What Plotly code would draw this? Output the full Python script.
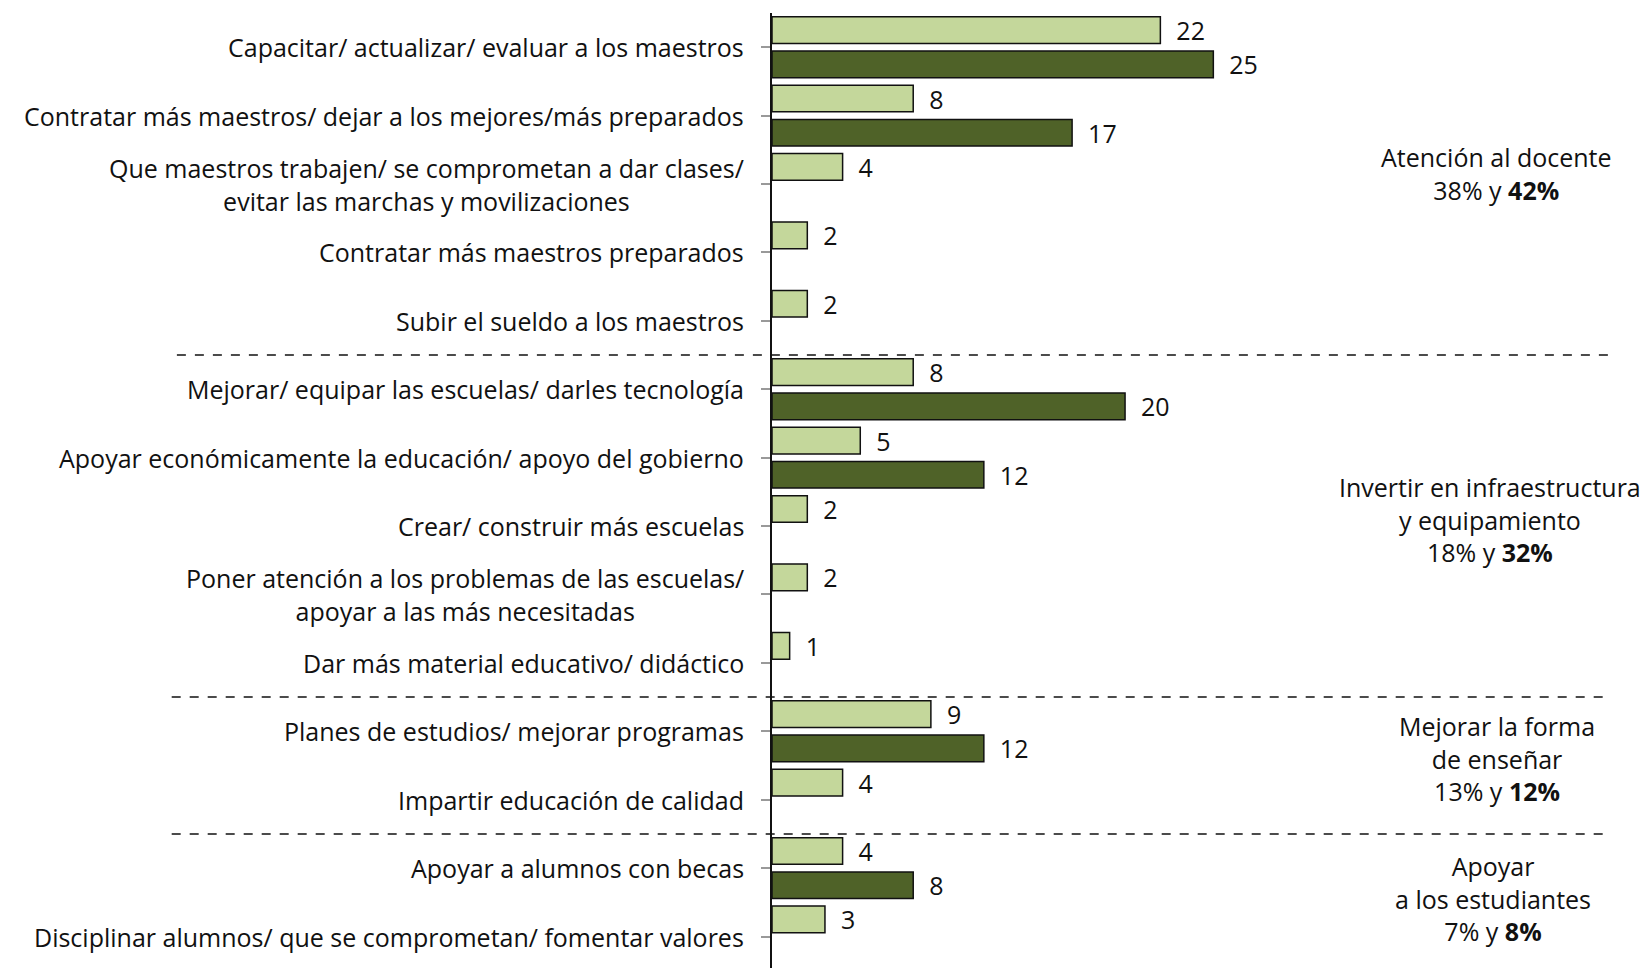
import plotly.graph_objects as go

categorias = [
    "Capacitar/ actualizar/ evaluar a los maestros",
    "Contratar más maestros/ dejar a los mejores/más preparados",
    "Que maestros trabajen/ se comprometan a dar clases/<br>evitar las marchas y movilizaciones",
    "Contratar más maestros preparados",
    "Subir el sueldo a los maestros",
    "Mejorar/ equipar las escuelas/ darles tecnología",
    "Apoyar económicamente la educación/ apoyo del gobierno",
    "Crear/ construir más escuelas",
    "Poner atención a los problemas de las escuelas/<br>apoyar a las más necesitadas",
    "Dar más material educativo/ didáctico",
    "Planes de estudios/ mejorar programas",
    "Impartir educación de calidad",
    "Apoyar a alumnos con becas",
    "Disciplinar alumnos/ que se comprometan/ fomentar valores",
]
serie_clara = [22, 8, 4, 2, 2, 8, 5, 2, 2, 1, 9, 4, 4, 3]
serie_oscura = [25, 17, None, None, None, 20, 12, None, None, None, 12, None, 8, None]

grupos = [
    "Atención al docente<br>38% y <b>42%</b>",
    "Invertir en infraestructura<br>y equipamiento<br>18% y <b>32%</b>",
    "Mejorar la forma<br>de enseñar<br>13% y <b>12%</b>",
    "Apoyar<br>a los estudiantes<br>7% y <b>8%</b>",
]
grupo_x = [41.05, 40.7, 41.05, 40.85]
grupo_y = [1.85, 6.9, 10.4, 12.45]
separadores = [4.5, 9.5, 11.5]

FONT = "Open Sans"
SIZE = 25
idx = list(range(len(categorias)))

fig = go.Figure()
fig.add_trace(go.Bar(
    y=idx, x=serie_clara, orientation="h", name="Serie 1",
    marker=dict(color="#C4D79B", line=dict(color="#111111", width=1.5)),
    texttemplate="\u00a0\u00a0%{x}", textposition="outside", cliponaxis=False,
    constraintext="none",
    textfont=dict(size=SIZE, color="#111111", family=FONT),
))
fig.add_trace(go.Bar(
    y=idx, x=serie_oscura, orientation="h", name="Serie 2",
    marker=dict(color="#4F6228", line=dict(color="#111111", width=1.5)),
    texttemplate="\u00a0\u00a0%{x}", textposition="outside", cliponaxis=False,
    constraintext="none",
    textfont=dict(size=SIZE, color="#111111", family=FONT),
))

# etiquetas de categoría (centradas en bloque, alineadas a la derecha)
for i, c in enumerate(categorias):
    fig.add_annotation(x=0, xref="paper", y=i, yref="y", text=c, showarrow=False,
                       xanchor="right", xshift=-26, align="center",
                       font=dict(size=SIZE, color="#111111", family=FONT))

for g, gx, gy in zip(grupos, grupo_x, grupo_y):
    fig.add_annotation(x=gx, xref="x", y=gy, yref="y", text=g, showarrow=False,
                       xanchor="center", align="center",
                       font=dict(size=SIZE, color="#111111", family=FONT))

for k, s in enumerate(separadores):
    x0, x1 = (-0.688, 0.972) if k == 0 else (-0.694, 0.966)
    fig.add_shape(type="line", xref="paper", yref="y", x0=x0, x1=x1, y0=s, y1=s,
                  line=dict(color="#111111", width=1.5, dash="dash"))

# la página tiene 8 px de margen de body: se compensa en el tamaño y márgenes
fig.update_layout(
    width=1640, height=960,
    margin=dict(l=764, r=11, t=5, b=0),
    paper_bgcolor="white", plot_bgcolor="white",
    barmode="group", bargap=0, bargroupgap=0.22,
    showlegend=False,
    font=dict(family=FONT, size=SIZE, color="#111111"),
    xaxis=dict(range=[0, 49], visible=False),
    yaxis=dict(range=[13.46, -0.5], showticklabels=False, showgrid=False, zeroline=False,
               showline=True, linecolor="#111111", linewidth=1.5,
               ticks="outside", tickson="boundaries", ticklen=9,
               tickcolor="#999999", tickwidth=1.5, tickvals=idx),
)

fig.write_html("out.html")
